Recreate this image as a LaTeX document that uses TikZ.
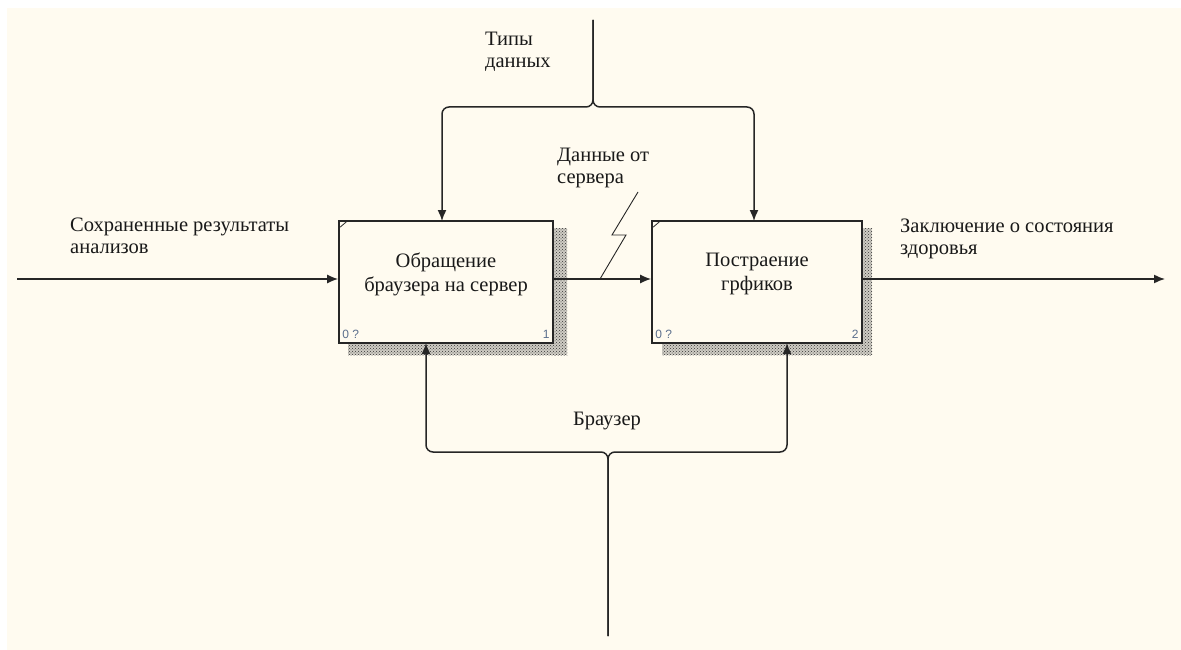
\documentclass[tikz,border=0pt]{standalone}
\usepackage{fontspec}
\setmainfont{Liberation Serif}
\newfontfamily\lblfont{Liberation Sans}
\usetikzlibrary{arrows.meta,patterns}
\definecolor{bgcream}{HTML}{FFFBF0}
\definecolor{inkline}{HTML}{262626}
\definecolor{tagblue}{HTML}{5A6E8C}
\definecolor{shadebase}{HTML}{CFCCC4}
\tikzset{
  actbox/.style={draw=inkline, line width=1.7pt, fill=bgcream, minimum height=122pt, inner sep=0pt},
  shadowfill/.style={fill=shadebase, postaction={pattern=crosshatch dots, pattern color=black!80}, draw=none},
  flow/.style={draw=inkline, line width=1.5pt, -{Latex[length=11pt,width=9pt]}},
  lbl/.style={font=\fontsize{20.5}{22}\selectfont, align=left, inner sep=0pt, text=black!90},
  boxlbl/.style={font=\fontsize{20.5}{23.5}\selectfont, align=center, inner sep=0pt, text=black!90},
  tag/.style={font=\lblfont\fontsize{12}{14}\selectfont, text=tagblue, inner sep=0pt}
}
\begin{document}
\begin{tikzpicture}[x=1pt,y=-1pt]
\useasboundingbox (0,0) rectangle (1181,650);
\fill[white] (0,0) rectangle (1181,650);
\fill[bgcream] (7,8) rectangle (1181,650);
% shadows
\path[shadowfill] (553,228) rectangle (567,355);
\path[shadowfill] (348,343) rectangle (567,355);
\path[shadowfill] (862,228) rectangle (872,355);
\path[shadowfill] (662,343) rectangle (872,355);
% boxes
\node[actbox, minimum width=214pt] (b1) at (446,282) {};
\node[actbox, minimum width=210pt] (b2) at (757,282) {};
\node[boxlbl, anchor=base] (t1) at (446,291) {Обращение\\браузера на сервер};
\node[boxlbl, anchor=base] (t2) at (757,290) {Постраение\\грфиков};
\draw[inkline, line width=0.8pt] ([xshift=2pt,yshift=-7pt]b1.north west) -- ([xshift=9pt,yshift=-1pt]b1.north west);
\draw[inkline, line width=0.8pt] ([xshift=2pt,yshift=-7pt]b2.north west) -- ([xshift=9pt,yshift=-1pt]b2.north west);
\node[tag, anchor=south west] (n1a) at ([xshift=4pt,yshift=5pt]b1.south west) {0 ?};
\node[tag, anchor=south east] (n1b) at ([xshift=-4pt,yshift=5pt]b1.south east) {1};
\node[tag, anchor=south west] (n2a) at ([xshift=4pt,yshift=5pt]b2.south west) {0 ?};
\node[tag, anchor=south east] (n2b) at ([xshift=-4pt,yshift=5pt]b2.south east) {2};
% coordinates
\coordinate (inS) at (17,279);
\coordinate (outE) at (1165,279);
\coordinate (ctlS) at (593,20);
\coordinate (mechS) at (608,636);
% input / output
\draw[flow] (inS) -- (b1.west |- inS);
\draw[flow] (b1.east |- inS) -- (b2.west |- inS);
\draw[flow] (b2.east |- inS) -- (outE);
% control
\draw[flow, rounded corners=7pt] (ctlS) -- (593,107) -- (442,107) -- (442,221);
\draw[flow, rounded corners=7pt] (ctlS) -- (593,107) -- (754,107) -- (754,221);
% mechanism
\draw[flow, rounded corners=7pt] (mechS) -- (608,452) -- (426,452) -- (426,343);
\draw[flow, rounded corners=7pt] (mechS) -- (608,452) -- (787,452) -- (787,343);
% squiggle
\draw[inkline, line width=0.9pt] (638,192) -- (612,235) -- (626,235) -- (600,279);
% labels
\node[lbl, anchor=base west] (l1) at (70,253) {Сохраненные результаты\\анализов};
\node[lbl, anchor=base west] (l2) at (900,254) {Заключение о состояния\\здоровья};
\node[lbl, anchor=base west] (l3) at (485,68) {Типы\\данных};
\node[lbl, anchor=base west] (l4) at (557,183) {Данные от\\сервера};
\node[lbl, anchor=base] (l5) at (607,425) {Браузер};
\end{tikzpicture}
\end{document}
